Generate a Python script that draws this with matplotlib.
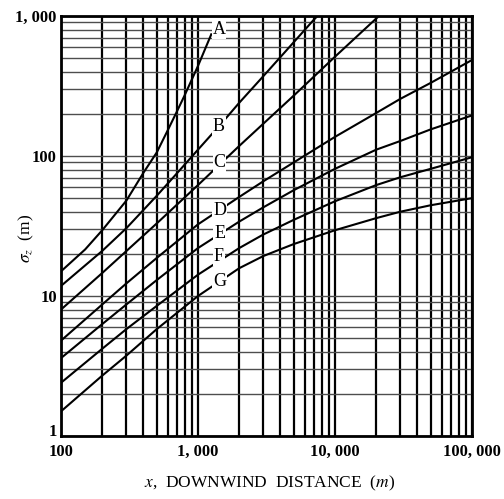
import matplotlib
matplotlib.use("Agg")
import matplotlib.pyplot as plt
import matplotlib.transforms as mtransforms
from matplotlib.ticker import LogLocator, FixedLocator, NullFormatter, FixedFormatter

plt.rcParams["mathtext.fontset"] = "stix"

# ---- data ----
x_A = [100, 150, 200, 300, 400, 500, 600, 700, 800, 1000, 1250]
sz_A = [15, 21.5, 29.5, 48, 76, 106, 152, 207, 272, 440, 740]

x_B = [100, 200, 300, 500, 700, 1000, 1500, 2000, 3000, 5000, 7000, 7600]
sz_B = [11.8, 21, 30.5, 52, 75, 111, 173, 240, 372, 650, 940, 1020]

x_C = [100, 200, 500, 1000, 2000, 5000, 10000, 20000, 21500]
sz_C = [8.0, 14.6, 33, 62, 118, 270, 512, 960, 1025]

x_DG = [100, 200, 300, 500, 1000, 2000, 3000, 5000, 10000, 20000, 30000, 50000, 100000]
sz_D = [4.8, 8.7, 12.3, 18.7, 32.5, 51, 66, 90, 137, 203, 256, 333, 485]
sz_E = [3.6, 6.3, 8.7, 13, 22, 34, 43, 57, 81, 111, 128, 155, 195]
sz_F = [2.4, 4.2, 5.8, 8.5, 14.2, 22, 27.5, 35, 47.5, 62, 70.5, 81, 98]
sz_G = [1.5, 2.7, 3.75, 5.8, 10, 15.8, 19.3, 23.5, 29.5, 36, 40, 44.5, 50]

curve_names = ["A", "B", "C", "D", "E", "F", "G"]
label_x = [1420, 1420, 1440, 1440, 1440, 1420, 1440]
label_y = [800, 163, 90, 40.5, 28, 19, 12.6]

x_ticks = [100, 1000, 10000, 100000]
x_ticklabels = ["100", "1, 000", "10, 000", "100, 000"]
y_ticks = [1, 10, 100, 1000]
y_ticklabels = ["1", "10", "100", "1, 000"]

# ---- figure ----
fig = plt.figure(figsize=(5.04, 4.99), dpi=100)
ax = fig.add_axes([61/504, 1-436/499, (472-61)/504, (436-16)/499])
ax.set_xscale("log")
ax.set_yscale("log")
ax.set_xlim(100, 100000)
ax.set_ylim(1, 1000)

serif = ["Liberation Serif", "DejaVu Serif"]

series = [(x_A, sz_A), (x_B, sz_B), (x_C, sz_C), (x_DG, sz_D),
          (x_DG, sz_E), (x_DG, sz_F), (x_DG, sz_G)]
for (xs, ys) in series:
    ax.plot(xs, ys, color="black", lw=1.5, zorder=3, clip_on=True)

for name, lx, ly in zip(curve_names, label_x, label_y):
    ax.text(lx, ly, name, family=serif, fontsize=13, ha="center", va="center",
            zorder=4, bbox=dict(facecolor="white", edgecolor="none", pad=0.5))

# grid
ax.xaxis.set_major_locator(FixedLocator(x_ticks))
ax.xaxis.set_major_formatter(FixedFormatter(x_ticklabels))
ax.yaxis.set_major_locator(FixedLocator(y_ticks))
ax.yaxis.set_major_formatter(FixedFormatter(y_ticklabels))
ax.xaxis.set_minor_locator(LogLocator(base=10, subs=range(2, 10)))
ax.yaxis.set_minor_locator(LogLocator(base=10, subs=range(2, 10)))
ax.xaxis.set_minor_formatter(NullFormatter())
ax.yaxis.set_minor_formatter(NullFormatter())
ax.xaxis.grid(True, which="both", color="black", lw=1.6, zorder=1)
ax.yaxis.grid(True, which="both", color="0.3", lw=1.0, zorder=1)
ax.set_axisbelow(True)

ax.tick_params(which="both", length=0)
ax.tick_params(axis="x", pad=6)
ax.tick_params(axis="y", pad=3)
for lab in ax.get_xticklabels() + ax.get_yticklabels():
    lab.set_family(serif)
    lab.set_fontsize(12)
    lab.set_fontweight("bold")

# lift the "1" label a little above the corner, as in the reference
ylabs = ax.get_yticklabels()
shift = mtransforms.ScaledTranslation(0, 6/100, fig.dpi_scale_trans)
ylabs[0].set_transform(ylabs[0].get_transform() + shift)

for sp in ax.spines.values():
    sp.set_linewidth(2)
    sp.set_color("black")

ax.set_xlabel(r"$x$,  DOWNWIND  DISTANCE  ($m$)", family=serif, fontsize=12.5,
              va="center")
ax.xaxis.set_label_coords(0.508, -0.112)
ax.set_ylabel(r"$\sigma_z$  (m)", family=serif, fontsize=12.5, va="center")
ax.yaxis.set_label_coords(-0.083, 0.47)

fig.savefig("out.png", dpi=100)
